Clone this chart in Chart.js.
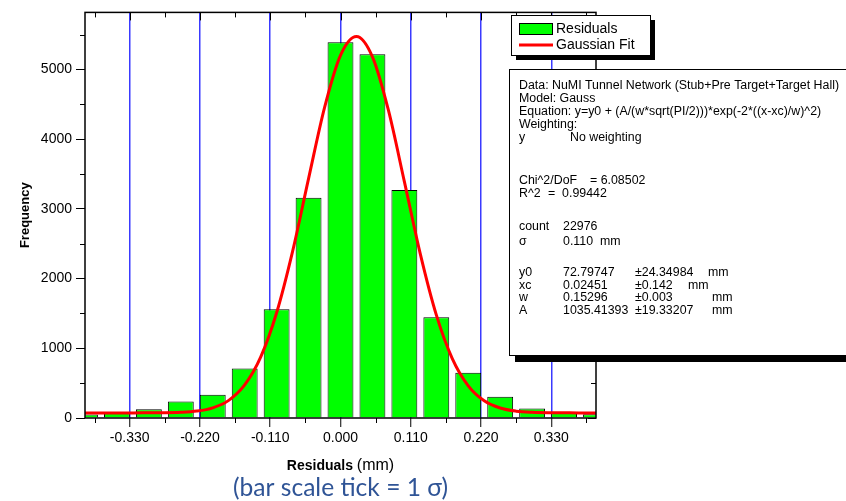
<!DOCTYPE html>
<html>
<head>
<meta charset="utf-8">
<title>Residuals histogram</title>
<script src="https://cdn.jsdelivr.net/npm/chart.js@4.4.1/dist/chart.umd.min.js"></script>
<style>
  html, body { margin: 0; padding: 0; background: #fff; }
  canvas { display: block; }
</style>
</head>
<body>
<canvas id="resChart" width="846" height="501"></canvas>
<script>
// histogram bins (mm), bin width 0.05
const binCenters = [-0.40, -0.35, -0.30, -0.25, -0.20, -0.15, -0.10, -0.05, 0.00,
                    0.05, 0.10, 0.15, 0.20, 0.25, 0.30, 0.35, 0.40];
const binCounts = [50, 75, 125, 235, 335, 710, 1560, 3160, 5390,
                   5220, 3270, 1445, 650, 305, 135, 80, 55];

// gaussian fit curve
const fitX = [-0.400, -0.375, -0.350, -0.325, -0.300, -0.275, -0.250, -0.225, -0.200,
              -0.175, -0.150, -0.125, -0.100, -0.075, -0.050, -0.025, 0.000, 0.025,
              0.050, 0.075, 0.100, 0.125, 0.150, 0.175, 0.200, 0.225, 0.250,
              0.275, 0.300, 0.325, 0.350, 0.375, 0.400];
const fitY = [73, 73, 73, 73, 74, 75, 81, 99, 146,
              253, 474, 873, 1510, 2391, 3435, 4454, 5204, 5474,
              5182, 4416, 3392, 2352, 1480, 853, 462, 247, 143,
              98, 81, 75, 74, 73, 73];

// axis ticks
const xTicks = [-0.33, -0.22, -0.11, 0, 0.11, 0.22, 0.33];
const xMinorTicks = [-0.385, -0.275, -0.165, -0.055, 0.055, 0.165, 0.275, 0.385];
const yTicks = [0, 1000, 2000, 3000, 4000, 5000];
const yMinorTicks = [500, 1500, 2500, 3500, 4500, 5500];

// fit report text (columns)
const statsHead = [
  'Data: NuMI Tunnel Network (Stub+Pre Target+Target Hall)',
  'Model: Gauss',
  'Equation: y=y0 + (A/(w*sqrt(PI/2)))*exp(-2*((x-xc)/w)^2)',
  'Weighting:'
];
const weightRow = ['y', 'No weighting'];
const chiRow = ['Chi^2/DoF', '= 6.08502'];
const r2Row = ['R^2', '=  0.99442'];
const countRow = ['count', '22976'];
const sigmaRow = ['\u03c3', '0.110  mm'];
const paramNames = ['y0', 'xc', 'w', 'A'];
const paramValues = ['72.79747', '0.02451', '0.15296', '1035.41393'];
const paramErrors = ['\u00b124.34984', '\u00b10.142', '\u00b10.003', '\u00b119.33207'];
const paramUnits = ['mm', 'mm', 'mm', 'mm'];

const xTitleBold = 'Residuals';
const xTitleUnit = '(mm)';
const yTitle = 'Frequency';
const noteText = '(bar scale tick = 1 \u03c3)';

Chart.defaults.font.family = '"Liberation Sans", Arial, sans-serif';
Chart.defaults.color = '#000';

// frame, minor ticks, titles, legend and fit report
const overlay = {
  id: 'overlay',
  afterDraw(chart) {
    const ctx = chart.ctx;
    const a = chart.chartArea;
    const xs = chart.scales.x, ys = chart.scales.y;
    ctx.save();

    ctx.strokeStyle = '#000';
    ctx.lineWidth = 1.5;
    ctx.strokeRect(a.left, a.top, a.right - a.left, a.bottom - a.top);

    ctx.lineWidth = 1;
    ctx.beginPath();
    xTicks.forEach(v => {
      const px = Math.round(xs.getPixelForValue(v)) + 0.5;
      ctx.moveTo(px, a.top); ctx.lineTo(px, a.top + 8);
    });
    xMinorTicks.forEach(v => {
      const px = Math.round(xs.getPixelForValue(v)) + 0.5;
      ctx.moveTo(px, a.top); ctx.lineTo(px, a.top + 5);
      ctx.moveTo(px, a.bottom); ctx.lineTo(px, a.bottom + 5);
    });
    yTicks.forEach(v => {
      const py = Math.round(ys.getPixelForValue(v)) + 0.5;
      ctx.moveTo(a.right, py); ctx.lineTo(a.right - 8, py);
    });
    yMinorTicks.forEach(v => {
      const py = Math.round(ys.getPixelForValue(v)) + 0.5;
      ctx.moveTo(a.left, py); ctx.lineTo(a.left - 5, py);
      ctx.moveTo(a.right, py); ctx.lineTo(a.right - 5, py);
    });
    ctx.stroke();

    // axis titles
    ctx.fillStyle = '#000';
    ctx.textBaseline = 'middle';
    ctx.font = 'bold 14px "Liberation Sans", Arial';
    const wb = ctx.measureText(xTitleBold + ' ').width;
    ctx.font = '16px "Liberation Sans", Arial';
    const wu = ctx.measureText(xTitleUnit).width;
    const cx = (a.left + a.right) / 2;
    let tx = cx - (wb + wu) / 2;
    ctx.textAlign = 'left';
    ctx.font = 'bold 14px "Liberation Sans", Arial';
    ctx.fillText(xTitleBold, tx, 466);
    ctx.font = '16px "Liberation Sans", Arial';
    ctx.fillText(xTitleUnit, tx + wb, 466);

    ctx.save();
    ctx.translate(25, (a.top + a.bottom) / 2);
    ctx.rotate(-Math.PI / 2);
    ctx.textAlign = 'center';
    ctx.font = 'bold 13px "Liberation Sans", Arial';
    ctx.fillText(yTitle, 0, 0);
    ctx.restore();

    // blue note under the axis title
    ctx.font = '20px Lato, "Open Sans", sans-serif';
    const nw = ctx.measureText(noteText).width;
    const ns = 20 * 215 / nw;
    ctx.font = ns.toFixed(1) + 'px Lato, "Open Sans", sans-serif';
    ctx.fillStyle = '#2f5496';
    ctx.textAlign = 'center';
    ctx.fillText(noteText, cx, 488);

    // legend box
    const ds = chart.data.datasets;
    ctx.fillStyle = '#000';
    ctx.fillRect(516, 20, 139, 40);
    ctx.fillStyle = '#fff';
    ctx.fillRect(511, 15, 139, 40);
    ctx.strokeStyle = '#000';
    ctx.strokeRect(511.5, 15.5, 139, 40);
    ctx.fillStyle = '#00ff00';
    ctx.fillRect(519, 23, 33, 11);
    ctx.strokeRect(519.5, 23.5, 33, 11);
    ctx.strokeStyle = '#ff0000';
    ctx.lineWidth = 3;
    ctx.beginPath();
    ctx.moveTo(519, 45); ctx.lineTo(553, 45);
    ctx.stroke();
    ctx.fillStyle = '#000';
    ctx.textAlign = 'left';
    ctx.font = '14px "Liberation Sans", Arial';
    ctx.fillText(ds[1].label, 556, 29);
    ctx.fillText(ds[0].label, 556, 45);

    // fit report box
    ctx.fillStyle = '#000';
    ctx.fillRect(515, 75, 340, 287);
    ctx.fillStyle = '#fff';
    ctx.fillRect(509, 69, 345, 286);
    ctx.strokeStyle = '#000';
    ctx.lineWidth = 1;
    ctx.strokeRect(509.5, 69.5, 345, 286);

    ctx.font = '12px "Liberation Sans", Arial';
    const sx = 320 / ctx.measureText(statsHead[0]).width;
    ctx.fillStyle = '#000';
    const put = (s, x, y) => {
      ctx.save();
      ctx.translate(x, y);
      ctx.scale(sx, 1);
      ctx.fillText(s, 0, 0);
      ctx.restore();
    };
    const col0 = 519;
    const headY = [86, 99, 112, 125];
    statsHead.forEach((s, i) => put(s, col0, headY[i]));
    put(weightRow[0], col0, 138); put(weightRow[1], 570, 138);
    put(chiRow[0], col0, 181); put(chiRow[1], 590, 181);
    put(r2Row[0], col0, 194); put(r2Row[1], 548, 194);
    put(countRow[0], col0, 227); put(countRow[1], 563, 227);
    put(sigmaRow[0], col0, 242); put(sigmaRow[1], 563, 242);
    const pY = [273, 286, 298, 311];
    const unitX = [708, 688, 712, 712];
    paramNames.forEach((n, i) => {
      put(n, col0, pY[i]);
      put(paramValues[i], 563, pY[i]);
      put(paramErrors[i], 635, pY[i]);
      put(paramUnits[i], unitX[i], pY[i]);
    });

    ctx.restore();
  }
};

new Chart(document.getElementById('resChart'), {
  type: 'bar',
  data: {
    datasets: [{
      type: 'line',
      label: 'Gaussian Fit',
      data: fitX.map((x, i) => ({ x: x, y: fitY[i] })),
      borderColor: '#ff0000',
      borderWidth: 3,
      pointRadius: 0,
      cubicInterpolationMode: 'monotone',
      order: 1
    }, {
      type: 'bar',
      label: 'Residuals',
      data: binCenters.map((x, i) => ({ x: x, y: binCounts[i] })),
      backgroundColor: '#00ff00',
      borderColor: '#000',
      borderWidth: 1,
      barPercentage: 0.81,
      categoryPercentage: 1,
      order: 2
    }]
  },
  options: {
    responsive: false,
    animation: false,
    events: [],
    layout: { padding: { top: 7, right: 250, left: 0, bottom: 0 } },
    plugins: { legend: { display: false }, tooltip: { enabled: false } },
    scales: {
      x: {
        type: 'linear',
        min: -0.40,
        max: 0.40,
        offset: false,
        afterBuildTicks: s => { s.ticks = xTicks.map(v => ({ value: v })); },
        afterFit: s => { s.height = 83; },
        ticks: {
          font: { size: 14 },
          padding: 3,
          maxRotation: 0,
          autoSkip: false,
          callback: v => v.toFixed(3)
        },
        grid: {
          color: '#3a3aff',
          lineWidth: 1.5,
          offset: false,
          drawTicks: true,
          tickLength: 9,
          tickColor: '#000',
          tickWidth: 1
        },
        border: { display: false }
      },
      y: {
        min: 0,
        max: 5820,
        afterBuildTicks: s => { s.ticks = yTicks.map(v => ({ value: v })); },
        afterFit: s => { s.width = 85; },
        ticks: { font: { size: 14 }, padding: 4, callback: v => String(v) },
        grid: {
          drawOnChartArea: false,
          drawTicks: true,
          tickLength: 9,
          tickColor: '#000'
        },
        border: { display: false }
      }
    }
  },
  plugins: [overlay]
});
</script>
</body>
</html>
